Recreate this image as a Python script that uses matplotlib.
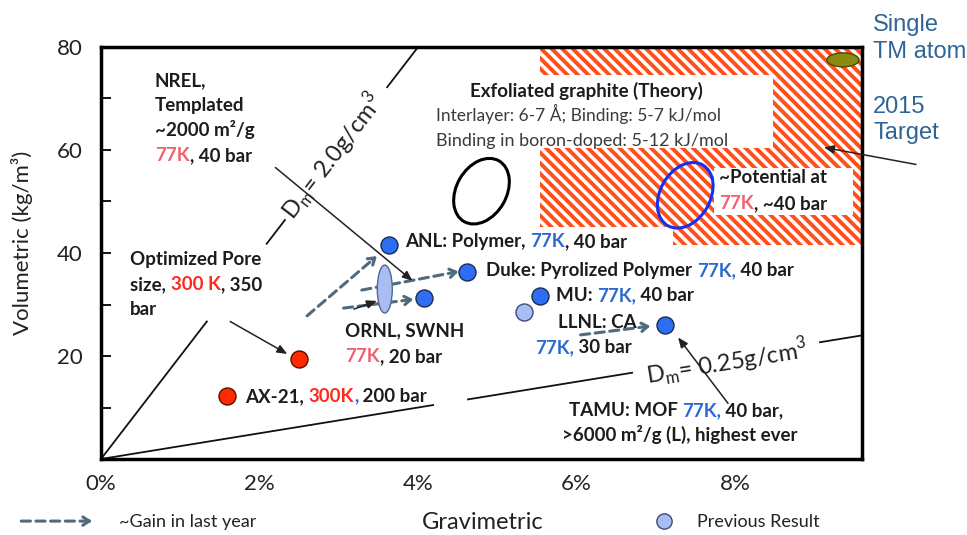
import numpy as np
import matplotlib
matplotlib.use('Agg')
import matplotlib.pyplot as plt
from matplotlib import transforms
from matplotlib.patches import Ellipse, Polygon, Rectangle
from matplotlib.font_manager import FontProperties

BODY = 'Lato'
INK = '#1c1c1c'
RED = '#ff2a1f'
PINK = '#f2606c'
BLUE = '#2b69d2'
GAIN = '#4f6b7c'
HATCH = '#ff4f1a'
TARGET = '#2f6496'

# hydrogen storage results: gravimetric (wt%) vs volumetric (kg/m3)
cur_x = [3.63, 4.62, 4.08, 5.54, 7.11]   # ANL, Duke, ORNL, MU, TAMU
cur_y = [41.6, 36.3, 31.3, 31.7, 26.0]
prev_x = [5.34]
prev_y = [28.5]
rt_x = [2.50, 1.59]                       # optimized pore, AX-21 (room temperature)
rt_y = [19.4, 12.3]

# ~gain in last year
gain_from = [(2.60, 27.8), (3.29, 32.8), (3.06, 29.3), (6.05, 24.1)]
gain_to = [(3.48, 39.4), (4.51, 36.4), (3.94, 31.0), (6.93, 25.8)]

# material density lines (g/cm3) and the x ranges where they are drawn
densities = [2.0, 0.25]
density_spans = [[(0, 1.335), (2.09, 2.32), (3.61, 4.0)],
                 [(0, 4.19), (4.63, 6.70), (9.07, 9.6)]]
density_labels = [(2.93, 58.6), (7.9, 18.6)]

# exfoliated graphite theory region and 2015 target
theory_x = [5.54, 9.6, 9.6, 7.22, 7.22, 5.54]
theory_y = [80, 80, 41.5, 41.5, 45.0, 45.0]

fig = plt.figure(figsize=(9.67, 5.35), dpi=100)
ax = fig.add_axes([101 / 967, 76 / 535, 761 / 967, 412 / 535])
ax.set_xlim(0, 9.6)
ax.set_ylim(0, 80)

for s in ax.spines.values():
    s.set_linewidth(2.5)
ax.set_xticks([0, 2, 4, 6, 8])
ax.set_xticklabels(['0%', '2%', '4%', '6%', '8%'])
ax.set_yticks([20, 40, 60, 80])
ax.set_yticks([10, 30, 50, 70], minor=True)
ax.tick_params(axis='x', length=0, pad=11, labelsize=16, labelcolor='#222')
ax.tick_params(axis='y', which='both', direction='in', length=7, width=1.3,
               pad=13, labelsize=16, labelcolor='#222')
for lab in ax.get_xticklabels() + ax.get_yticklabels():
    lab.set_family(BODY)

ax.text(-0.104, 0.524, 'Volumetric (kg/m³)', transform=ax.transAxes, rotation=90,
        ha='center', va='center', fontsize=16, family=BODY, color='#222')
ax.text(0.502, -0.153, 'Gravimetric', transform=ax.transAxes,
        ha='center', va='center', fontsize=17, family=BODY, color='#222')

# hatched theory region
region = Polygon(np.column_stack([theory_x, theory_y]), closed=True,
                 fc='none', ec='none')
ax.add_patch(region)
W, H = ax.bbox.width, ax.bbox.height
for c in np.arange(0, W + H, 10.5):
    ln, = ax.plot([c / W, 0], [0, c / H], transform=ax.transAxes,
                  color=HATCH, lw=2.8, solid_capstyle='butt', zorder=1)
    ln.set_clip_path(region)

# white boxes behind the region's text
ax.add_patch(Rectangle((4.15, 60.4), 4.33, 14.2, fc='white', ec='none', zorder=2))
ax.add_patch(Rectangle((7.73, 47.4), 1.76, 9.1, fc='white', ec='none', zorder=2))

# density lines
for d, spans in zip(densities, density_spans):
    for a, b in spans:
        ax.plot([a, b], [10 * d * a, 10 * d * b], color='#111', lw=1.3, zorder=1.5)

def slope_angle(d):
    p0 = ax.transData.transform((0, 0))
    p1 = ax.transData.transform((1, 10 * d))
    return np.degrees(np.arctan2(p1[1] - p0[1], p1[0] - p0[0]))

for d, (lx, ly) in zip(densities, density_labels):
    txt = r'D$_\mathregular{m}$= %sg/cm$^\mathregular{3}$' % d
    ax.text(lx, ly, txt, rotation=slope_angle(d), rotation_mode='anchor',
            ha='center', va='center', fontsize=17, family=BODY, color='#222', zorder=3)


def pixel_ellipse(cx, cy, w, h, angle=0, **kw):
    # size in pixels, centre in data units
    tr = fig.dpi_scale_trans + transforms.ScaledTranslation(cx, cy, ax.transData)
    e = Ellipse((0, 0), w / fig.dpi, h / fig.dpi, angle=angle, transform=tr, **kw)
    ax.add_patch(e)
    return e

pixel_ellipse(4.80, 52.0, 70, 50, 60, fc='none', ec='black', lw=2.2, zorder=3)
pixel_ellipse(7.37, 51.2, 70, 50, 60, fc='none', ec='#1530f0', lw=2.2, zorder=3)
pixel_ellipse(9.36, 77.5, 32, 14, fc='#8c8a10', ec='#4a4a08', lw=1, zorder=3)
pixel_ellipse(3.58, 33.0, 15, 48, fc='#a9bdf0', ec='#52679a', lw=1, zorder=5)


def gain_arrow(p0, p1, coords='data'):
    head = (p1[0] - 0.06 * (p1[0] - p0[0]), p1[1] - 0.06 * (p1[1] - p0[1]))
    ax.annotate('', xy=head, xytext=p0, xycoords=coords, textcoords=coords,
                arrowprops=dict(arrowstyle='-', color=GAIN, lw=2.2, ls=(0, (3, 1.8)),
                                shrinkA=0, shrinkB=0), annotation_clip=False, zorder=4)
    ax.annotate('', xy=p1, xytext=head, xycoords=coords, textcoords=coords,
                arrowprops=dict(arrowstyle='->,head_length=0.45,head_width=0.3',
                                color=GAIN, lw=2.2, shrinkA=0, shrinkB=0),
                annotation_clip=False, zorder=4)

for p0, p1 in zip(gain_from, gain_to):
    gain_arrow(p0, p1)


def pointer(p0, p1):
    ax.annotate('', xy=p1, xytext=p0,
                arrowprops=dict(arrowstyle='-|>,head_length=0.6,head_width=0.25',
                                color='#222', lw=1.1, shrinkA=0, shrinkB=0),
                annotation_clip=False, zorder=4)

pointer((2.20, 56.6), (3.93, 34.6))
pointer((1.63, 26.7), (2.35, 20.4))
pointer((3.19, 29.1), (3.48, 30.7))
pointer((7.91, 10.8), (7.28, 23.6))
pointer((10.28, 57.2), (9.12, 60.5))

ax.scatter(cur_x, cur_y, s=150, c='#2f6ef2', edgecolors='#1a2c55', linewidths=1, zorder=6)
ax.scatter(prev_x, prev_y, s=150, c='#a8bdf3', edgecolors='#3d4d70', linewidths=1, zorder=6)
ax.scatter(rt_x, rt_y, s=150, c='#ff2a00', edgecolors='#561000', linewidths=1, zorder=6)


def rich(x, y, lines, size=13.5, weight='bold', step=25):
    # each line is a list of (text, colour) runs set one after another
    fp = FontProperties(family=BODY, size=size, weight=weight)
    r = fig.canvas.get_renderer()
    bar = r.get_text_width_height_descent('|', fp, ismath=False)[0]
    for i, runs in enumerate(lines):
        done = ''
        for s, c in runs:
            dx = 0
            if done:
                dx = r.get_text_width_height_descent(done + '|', fp, ismath=False)[0] - bar
            tr = transforms.offset_copy(ax.transData, fig=fig, x=dx, y=-i * step, units='dots')
            ax.text(x, y, s, transform=tr, fontproperties=fp, color=c,
                    ha='left', va='baseline', zorder=5, clip_on=False)
            done += s

rich(0.68, 72.4, [[('NREL,', INK)], [('Templated', INK)], [('~2000 m²/g', INK)],
                  [('77K', PINK), (', 40 bar', INK)]])
rich(0.37, 37.7, [[('Optimized Pore', INK)], [('size, ', INK), ('300 K', RED), (', 350', INK)],
                  [('bar', INK)]])
rich(1.82, 11.1, [[('AX-21, ', INK), ('300K', RED), (',', BLUE), (' 200 bar', INK)]])
rich(3.84, 41.2, [[('ANL: Polymer, ', INK), ('77K', BLUE), (', 40 bar', INK)]])
rich(4.86, 35.5, [[('Duke: Pyrolized Polymer ', INK), ('77K,', BLUE), (' 40 bar', INK)]])
rich(5.74, 30.7, [[('MU: ', INK), ('77K,', BLUE), (' 40 bar', INK)]])
rich(5.76, 25.4, [[('LLNL: CA', INK)]])
rich(5.48, 20.6, [[('77K,', BLUE), (' 30 bar', INK)]])
rich(3.08, 23.9, [[('ORNL, SWNH', INK)], [('77K', PINK), (', 20 bar', INK)]], step=26)
rich(5.90, 8.35, [[('TAMU: MOF ', INK), ('77K,', BLUE), (' 40 bar,', INK)]])
rich(5.82, 3.5, [[('>6000 m²/g (L), highest ever', INK)]])
rich(7.80, 53.6, [[('~Potential at', INK)], [('77K', PINK), (', ~40 bar', INK)]], step=26)

ax.text(4.65, 70.3, 'Exfoliated graphite (Theory)', fontsize=13.5, fontweight='bold',
        family=BODY, color=INK, va='baseline', zorder=5)
ax.text(4.22, 65.6, 'Interlayer: 6-7 Å; Binding: 5-7 kJ/mol', fontsize=12.5,
        family=BODY, color='#3a3a3a', va='baseline', zorder=5)
ax.text(4.22, 60.8, 'Binding in boron-doped: 5-12 kJ/mol', fontsize=13,
        family=BODY, color='#3a3a3a', va='baseline', zorder=5)

# 2015 target notes outside the frame
for yy, s in zip([0.953, 0.903, 0.800, 0.751], ['Single', 'TM atom', '2015', 'Target']):
    fig.text(0.9028, yy, s, fontsize=17, family='Liberation Sans', color=TARGET,
             ha='left', va='center')

# legend row
gain_arrow((0.022, 0.026), (0.095, 0.026), coords='figure fraction')
fig.text(0.123, 0.0243, '~Gain in last year', fontsize=13,
         family=['Liberation Sans Narrow', BODY], color='#222', va='center')
ax.plot([0.687], [0.026], 'o', ms=11, mfc='#a8bdf3', mec='#3d4d70', mew=1,
        transform=fig.transFigure, clip_on=False)
fig.text(0.721, 0.0243, 'Previous Result', fontsize=13,
         family=['Liberation Sans Narrow', BODY], color='#222', va='center')

plt.savefig('out.png', dpi=100)
